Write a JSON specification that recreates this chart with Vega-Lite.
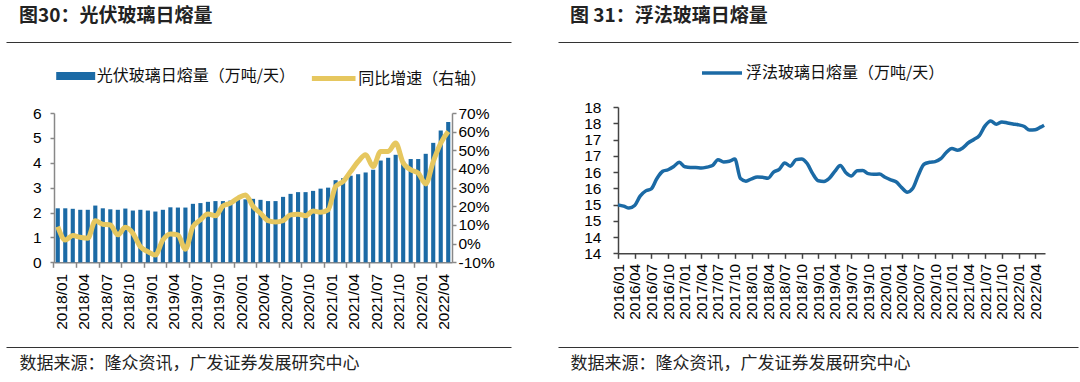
{
  "$schema": "https://vega.github.io/schema/vega-lite/v6.json",
  "background": "white",
  "padding": {"left": 5, "top": 6, "right": 0, "bottom": 0},
  "config": {
    "view": {"stroke": null},
    "axis": {"grid": false, "labelFont": "Liberation Sans", "labelColor": "#000", "labelFontSize": 15.5},
    "legend": {"labelFont": "Noto Sans CJK SC", "labelColor": "#111", "labelFontSize": 16, "padding": 0, "labelLimit": 400}
  },
  "resolve": {"scale": {"stroke": "independent", "fill": "independent"}, "legend": {"stroke": "independent", "fill": "independent"}},
  "hconcat": [
    {
      "width": 505, "height": 305,
      "view": {"stroke": "#333", "strokeWidth": 1, "strokeDash": [505, 305, 505, 305]},
      "title": {"text": "图30：光伏玻璃日熔量", "anchor": "start", "frame": "group", "dx": 13, "offset": 16, "fontSize": 19, "font": "Noto Sans CJK SC", "fontWeight": "bold", "color": "#222"},
      "data": {"values": [
        {"month": "2018/01", "capacity": 2.17, "yoy": 9.1},
        {"month": "2018/02", "capacity": 2.17, "yoy": 2.0},
        {"month": "2018/03", "capacity": 2.15, "yoy": 4.3},
        {"month": "2018/04", "capacity": 2.11, "yoy": 3.4},
        {"month": "2018/05", "capacity": 2.11, "yoy": 2.9},
        {"month": "2018/06", "capacity": 2.28, "yoy": 12.2},
        {"month": "2018/07", "capacity": 2.17, "yoy": 10.4},
        {"month": "2018/08", "capacity": 2.13, "yoy": 10.0},
        {"month": "2018/09", "capacity": 2.11, "yoy": 4.7},
        {"month": "2018/10", "capacity": 2.16, "yoy": 8.8},
        {"month": "2018/11", "capacity": 2.08, "yoy": 5.6},
        {"month": "2018/12", "capacity": 2.11, "yoy": -1.6},
        {"month": "2019/01", "capacity": 2.08, "yoy": -4.3},
        {"month": "2019/02", "capacity": 2.04, "yoy": -6.1},
        {"month": "2019/03", "capacity": 2.11, "yoy": 2.0},
        {"month": "2019/04", "capacity": 2.21, "yoy": 5.2},
        {"month": "2019/05", "capacity": 2.20, "yoy": 4.7},
        {"month": "2019/06", "capacity": 2.20, "yoy": -3.0},
        {"month": "2019/07", "capacity": 2.35, "yoy": 9.1},
        {"month": "2019/08", "capacity": 2.38, "yoy": 12.7},
        {"month": "2019/09", "capacity": 2.43, "yoy": 15.9},
        {"month": "2019/10", "capacity": 2.46, "yoy": 14.9},
        {"month": "2019/11", "capacity": 2.46, "yoy": 20.2},
        {"month": "2019/12", "capacity": 2.48, "yoy": 21.7},
        {"month": "2020/01", "capacity": 2.55, "yoy": 24.4},
        {"month": "2020/02", "capacity": 2.53, "yoy": 26.1},
        {"month": "2020/03", "capacity": 2.55, "yoy": 20.0},
        {"month": "2020/04", "capacity": 2.51, "yoy": 16.3},
        {"month": "2020/05", "capacity": 2.46, "yoy": 12.3},
        {"month": "2020/06", "capacity": 2.46, "yoy": 11.6},
        {"month": "2020/07", "capacity": 2.63, "yoy": 12.3},
        {"month": "2020/08", "capacity": 2.75, "yoy": 15.4},
        {"month": "2020/09", "capacity": 2.82, "yoy": 15.8},
        {"month": "2020/10", "capacity": 2.82, "yoy": 14.9},
        {"month": "2020/11", "capacity": 2.87, "yoy": 17.5},
        {"month": "2020/12", "capacity": 2.96, "yoy": 16.8},
        {"month": "2021/01", "capacity": 3.00, "yoy": 18.1},
        {"month": "2021/02", "capacity": 3.30, "yoy": 30.6},
        {"month": "2021/03", "capacity": 3.38, "yoy": 33.3},
        {"month": "2021/04", "capacity": 3.48, "yoy": 38.6},
        {"month": "2021/05", "capacity": 3.54, "yoy": 44.0},
        {"month": "2021/06", "capacity": 3.61, "yoy": 47.6},
        {"month": "2021/07", "capacity": 3.72, "yoy": 41.3},
        {"month": "2021/08", "capacity": 4.09, "yoy": 49.4},
        {"month": "2021/09", "capacity": 4.20, "yoy": 49.4},
        {"month": "2021/10", "capacity": 4.32, "yoy": 53.9},
        {"month": "2021/11", "capacity": 4.05, "yoy": 43.2},
        {"month": "2021/12", "capacity": 4.15, "yoy": 39.6},
        {"month": "2022/01", "capacity": 4.15, "yoy": 37.8},
        {"month": "2022/02", "capacity": 4.36, "yoy": 32.0},
        {"month": "2022/03", "capacity": 4.80, "yoy": 44.0},
        {"month": "2022/04", "capacity": 5.30, "yoy": 53.9},
        {"month": "2022/05", "capacity": 5.64, "yoy": 60.1}
      ]},
      "layer": [
        {
          "mark": {"type": "bar"},
          "encoding": {
            "x": {"field": "month", "type": "ordinal", "sort": null,
              "scale": {"range": [48, 446], "paddingInner": 0.45, "paddingOuter": 0.225},
              "axis": {"offset": -84.7, "labelAngle": 270, "tickSize": 5, "labelPadding": 6, "domainColor": "#888", "tickColor": "#888", "domainWidth": 1.5, "tickWidth": 1.5,
                "bandPosition": -0.41, "labelOffset": 3.76, "labelOverlap": false,
                "values": ["2018/01","2018/04","2018/07","2018/10","2019/01","2019/04","2019/07","2019/10","2020/01","2020/04","2020/07","2020/10","2021/01","2021/04","2021/07","2021/10","2022/01","2022/04"],
                "title": "数据来源：隆众资讯，广发证券发展研究中心", "titleFont": "Noto Sans CJK SC", "titleFontSize": 17, "titleFontWeight": "normal", "titleColor": "#222",
                "titleX": 13, "titleY": 100.7, "titleAlign": "left", "titleBaseline": "middle", "titleAnchor": null}},
            "y": {"field": "capacity", "type": "quantitative", "scale": {"domain": [0, 6], "range": [220.3, 71]},
              "axis": {"offset": -48, "values": [0,1,2,3,4,5,6], "tickSize": 4, "labelPadding": 9, "domainColor": "#888", "tickColor": "#888", "domainWidth": 1.5, "tickWidth": 1.5, "title": null}},
            "fill": {"datum": "光伏玻璃日熔量（万吨/天）", "scale": {"range": ["#1b6aa5"]},
              "legend": {"orient": "none", "legendX": 61.7, "legendY": 26, "title": null,
                "symbolType": "M-2.5,-0.5H2.5V0.5H-2.5Z", "symbolSize": 243, "symbolStrokeWidth": 0, "labelOffset": 13}}
          }
        },
        {
          "mark": {"type": "line", "interpolate": "monotone", "strokeWidth": 5},
          "encoding": {
            "x": {"field": "month", "type": "ordinal", "sort": null},
            "y": {"field": "yoy", "type": "quantitative", "scale": {"domain": [-10, 70], "range": [220.3, 71]},
              "axis": {"orient": "right", "offset": -59, "values": [-10,0,10,20,30,40,50,60,70], "labelExpr": "datum.value + '%'", "tickSize": 4, "labelPadding": 2, "domainColor": "#888", "tickColor": "#888", "domainWidth": 1.5, "tickWidth": 1.5, "title": null}},
            "stroke": {"datum": "同比增速（右轴）", "scale": {"range": ["#e6c75f"]},
              "legend": {"orient": "none", "legendX": 317.2, "legendY": 26, "title": null,
                "symbolType": "M-2.8,0H2.8", "symbolSize": 243, "symbolStrokeWidth": 5, "labelOffset": 14}}
          }
        }
      ],
      "resolve": {"scale": {"y": "independent"}}
    },
    {
      "width": 520, "height": 305,
      "view": {"stroke": "#333", "strokeWidth": 1, "strokeDash": [520, 305, 520, 305]},
      "title": {"text": "图 31：浮法玻璃日熔量", "anchor": "start", "frame": "group", "dx": 12, "offset": 16, "fontSize": 19, "font": "Noto Sans CJK SC", "fontWeight": "bold", "color": "#222"},
      "data": {"values": [
        {"date": "2016-01-01", "value": 15.49},
        {"date": "2016-02-01", "value": 15.45},
        {"date": "2016-03-01", "value": 15.39},
        {"date": "2016-04-01", "value": 15.47},
        {"date": "2016-05-01", "value": 15.76},
        {"date": "2016-06-01", "value": 15.92},
        {"date": "2016-07-01", "value": 15.98},
        {"date": "2016-08-01", "value": 16.30},
        {"date": "2016-09-01", "value": 16.52},
        {"date": "2016-10-01", "value": 16.57},
        {"date": "2016-11-01", "value": 16.67},
        {"date": "2016-12-01", "value": 16.80},
        {"date": "2017-01-01", "value": 16.66},
        {"date": "2017-02-01", "value": 16.64},
        {"date": "2017-03-01", "value": 16.64},
        {"date": "2017-04-01", "value": 16.62},
        {"date": "2017-05-01", "value": 16.65},
        {"date": "2017-06-01", "value": 16.70},
        {"date": "2017-07-01", "value": 16.88},
        {"date": "2017-08-01", "value": 16.81},
        {"date": "2017-09-01", "value": 16.83},
        {"date": "2017-10-01", "value": 16.90},
        {"date": "2017-11-01", "value": 16.30},
        {"date": "2017-12-01", "value": 16.22},
        {"date": "2018-01-01", "value": 16.29},
        {"date": "2018-02-01", "value": 16.35},
        {"date": "2018-03-01", "value": 16.34},
        {"date": "2018-04-01", "value": 16.31},
        {"date": "2018-05-01", "value": 16.50},
        {"date": "2018-06-01", "value": 16.58},
        {"date": "2018-07-01", "value": 16.78},
        {"date": "2018-08-01", "value": 16.68},
        {"date": "2018-09-01", "value": 16.88},
        {"date": "2018-10-01", "value": 16.90},
        {"date": "2018-11-01", "value": 16.76},
        {"date": "2018-12-01", "value": 16.45},
        {"date": "2019-01-01", "value": 16.23},
        {"date": "2019-02-01", "value": 16.21},
        {"date": "2019-03-01", "value": 16.30},
        {"date": "2019-04-01", "value": 16.52},
        {"date": "2019-05-01", "value": 16.70},
        {"date": "2019-06-01", "value": 16.48},
        {"date": "2019-07-01", "value": 16.38},
        {"date": "2019-08-01", "value": 16.54},
        {"date": "2019-09-01", "value": 16.55},
        {"date": "2019-10-01", "value": 16.45},
        {"date": "2019-11-01", "value": 16.43},
        {"date": "2019-12-01", "value": 16.44},
        {"date": "2020-01-01", "value": 16.34},
        {"date": "2020-02-01", "value": 16.26},
        {"date": "2020-03-01", "value": 16.20},
        {"date": "2020-04-01", "value": 16.02},
        {"date": "2020-05-01", "value": 15.88},
        {"date": "2020-06-01", "value": 16.00},
        {"date": "2020-07-01", "value": 16.40},
        {"date": "2020-08-01", "value": 16.74},
        {"date": "2020-09-01", "value": 16.80},
        {"date": "2020-10-01", "value": 16.82},
        {"date": "2020-11-01", "value": 16.91},
        {"date": "2020-12-01", "value": 17.10},
        {"date": "2021-01-01", "value": 17.22},
        {"date": "2021-02-01", "value": 17.17},
        {"date": "2021-03-01", "value": 17.24},
        {"date": "2021-04-01", "value": 17.40},
        {"date": "2021-05-01", "value": 17.50},
        {"date": "2021-06-01", "value": 17.63},
        {"date": "2021-07-01", "value": 17.92},
        {"date": "2021-08-01", "value": 18.07},
        {"date": "2021-09-01", "value": 17.97},
        {"date": "2021-10-01", "value": 18.04},
        {"date": "2021-11-01", "value": 18.01},
        {"date": "2021-12-01", "value": 17.98},
        {"date": "2022-01-01", "value": 17.95},
        {"date": "2022-02-01", "value": 17.90},
        {"date": "2022-03-01", "value": 17.79},
        {"date": "2022-04-01", "value": 17.80},
        {"date": "2022-05-01", "value": 17.88},
        {"date": "2022-05-20", "value": 17.94}
      ]},
      "mark": {"type": "line", "interpolate": "monotone", "strokeWidth": 3.5},
      "encoding": {
        "x": {"field": "date", "type": "temporal",
          "scale": {"type": "utc", "range": [60, 487], "domain": [{"year": 2016, "month": 1, "date": 1, "utc": true}, {"year": 2022, "month": 5, "date": 25, "utc": true}]},
          "axis": {"offset": -93.7, "tickCount": {"interval": "month", "step": 3}, "labelExpr": "utcFormat(datum.value, '%Y/%m')",
            "labelAngle": 270, "tickSize": 5, "labelPadding": 5, "domainColor": "#444", "tickColor": "#444", "domainWidth": 1.5, "tickWidth": 1.5, "labelOverlap": false, "labelFlush": false,
            "title": "数据来源：隆众资讯，广发证券发展研究中心", "titleFont": "Noto Sans CJK SC", "titleFontSize": 17, "titleFontWeight": "normal", "titleColor": "#222",
            "titleX": 12, "titleY": 109.7, "titleAlign": "left", "titleBaseline": "middle", "titleAnchor": null}},
        "y": {"field": "value", "type": "quantitative", "scale": {"domain": [14, 18.5], "range": [211.3, 65]},
          "axis": {"offset": -60, "values": [14,14.5,15,15.5,16,16.5,17,17.5,18,18.5], "labelExpr": "floor(datum.value)", "tickSize": 5, "labelPadding": 12, "domainColor": "#444", "tickColor": "#444", "domainWidth": 1.5, "tickWidth": 1.5, "title": null}},
        "stroke": {"datum": "浮法玻璃日熔量（万吨/天）", "scale": {"range": ["#1b6aa5"]},
          "legend": {"orient": "none", "legendX": 154, "legendY": 21, "title": null,
            "symbolType": "M-2.5,0H2.5", "symbolSize": 256, "symbolStrokeWidth": 3.5, "labelOffset": 14}}
      }
    }
  ],
  "spacing": 45
}
